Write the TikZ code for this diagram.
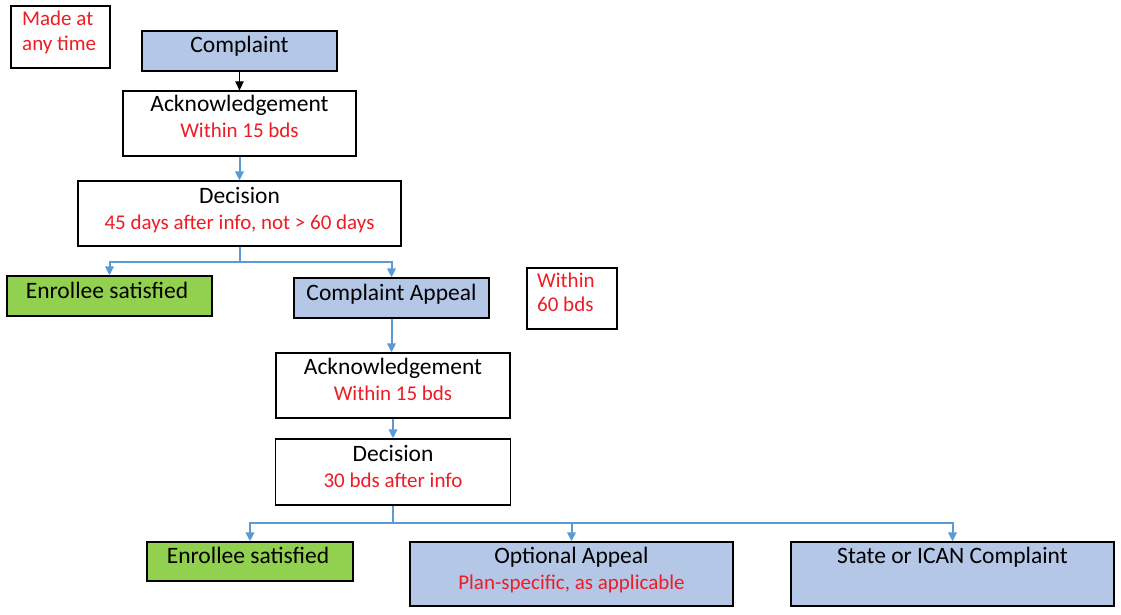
\documentclass[tikz,border=0pt]{standalone}
\usepackage{fontspec}
\setmainfont{Carlito}
\usetikzlibrary{arrows.meta}
\definecolor{boxblue}{HTML}{B4C7E7}
\definecolor{boxgreen}{HTML}{92D050}
\definecolor{connblue}{HTML}{5B9BD5}
\definecolor{txtred}{HTML}{EE1C25}
\tikzset{
  box/.style={draw=black, line width=1.3pt, inner sep=0pt, rectangle},
  bluebox/.style={box, fill=boxblue},
  greenbox/.style={box, fill=boxgreen},
  whitebox/.style={box, fill=white},
  maintxt/.style={anchor=base, inner sep=0pt, font=\fontsize{23.5}{28}\selectfont, text=black},
  redtxt/.style={anchor=base, inner sep=0pt, font=\fontsize{21}{25}\selectfont, text=txtred},
  redleft/.style={anchor=base west, inner sep=0pt, font=\fontsize{21}{25}\selectfont, text=txtred},
  conn/.style={draw=connblue, line width=2pt, -{Triangle[length=9pt,width=8.5pt]}},
  connplain/.style={draw=connblue, line width=2pt},
  blackconn/.style={draw=black, line width=1.3pt, -{Triangle[length=9pt,width=8.5pt]}}
}
\begin{document}
\begin{tikzpicture}[x=1pt,y=-1pt]
\useasboundingbox[fill=white] (0,0) rectangle (1121,615);

% Note boxes
\node[whitebox, minimum width=99pt, minimum height=62pt] (made) at (60.5,37) {};
\node[redleft] (madet1) at (22,26) {Made at};
\node[redleft] (madet2) at (22,51) {any time};

\node[whitebox, minimum width=90pt, minimum height=61pt] (w60) at (572,298.5) {};
\node[redleft] (w60t1) at (537,287) {Within};
\node[redleft] (w60t2) at (537,311) {60 bds};

% First level
\node[bluebox, minimum width=195pt, minimum height=40pt] (comp) at (239.5,51) {};
\node[maintxt] (compt) at (239.5,53) {Complaint};

\node[whitebox, minimum width=233pt, minimum height=65pt] (ack1) at (239.5,123.5) {};
\node[maintxt] (ack1t) at (239.5,112) {Acknowledgement};
\node[redtxt] (ack1r) at (239.5,138) {Within 15 bds};

\node[whitebox, minimum width=323pt, minimum height=65pt] (dec1) at (239.5,213.5) {};
\node[maintxt] (dec1t) at (239.5,203) {Decision};
\node[redtxt] (dec1r) at (239.5,229) {45 days after info, not > 60 days};

\node[greenbox, minimum width=205pt, minimum height=40pt] (enr1) at (109.5,296) {};
\node[maintxt] (enr1t) at (107,298) {Enrollee satisfied};

\node[bluebox, minimum width=195pt, minimum height=40pt] (ca) at (391.5,298) {};
\node[maintxt] (cat) at (391.5,300) {Complaint Appeal};

% Appeal level
\node[whitebox, minimum width=234pt, minimum height=65pt] (ack2) at (393,385.5) {};
\node[maintxt] (ack2t) at (393,374) {Acknowledgement};
\node[redtxt] (ack2r) at (393,400) {Within 15 bds};

\node[whitebox, minimum width=235pt, minimum height=66pt] (dec2) at (393,472) {};
\node[maintxt] (dec2t) at (393,461) {Decision};
\node[redtxt] (dec2r) at (393,487) {30 bds after info};

% Bottom row
\node[greenbox, minimum width=206pt, minimum height=39pt] (enr2) at (250,561.5) {};
\node[maintxt] (enr2t) at (248,563) {Enrollee satisfied};

\node[bluebox, minimum width=323pt, minimum height=64pt] (opt) at (571.5,574) {};
\node[maintxt] (optt) at (571.5,563) {Optional Appeal};
\node[redtxt] (optr) at (571.5,589) {Plan-specific, as applicable};

\node[bluebox, minimum width=323pt, minimum height=64pt] (state) at (952.5,574) {};
\node[maintxt] (statet) at (952.5,563) {State or ICAN Complaint};

% Connectors
\draw[blackconn] (comp.south) -- (ack1.north);
\draw[conn] (ack1.south) -- (dec1.north);

\coordinate (j1) at (239.5,262);
\draw[connplain] (dec1.south) -- (j1);
\draw[conn] (j1) -| (enr1.north);
\draw[conn] (j1) -| (ca.north);

\draw[conn] (ca.south) -- (ack2.north -| ca.south);
\draw[conn] (ack2.south) -- (dec2.north);

\coordinate (j2) at (393,523);
\draw[connplain] (dec2.south) -- (j2);
\draw[conn] (j2) -| (enr2.north);
\draw[conn] (j2) -| (opt.north);
\draw[conn] (j2) -| (state.north);
\end{tikzpicture}
\end{document}
